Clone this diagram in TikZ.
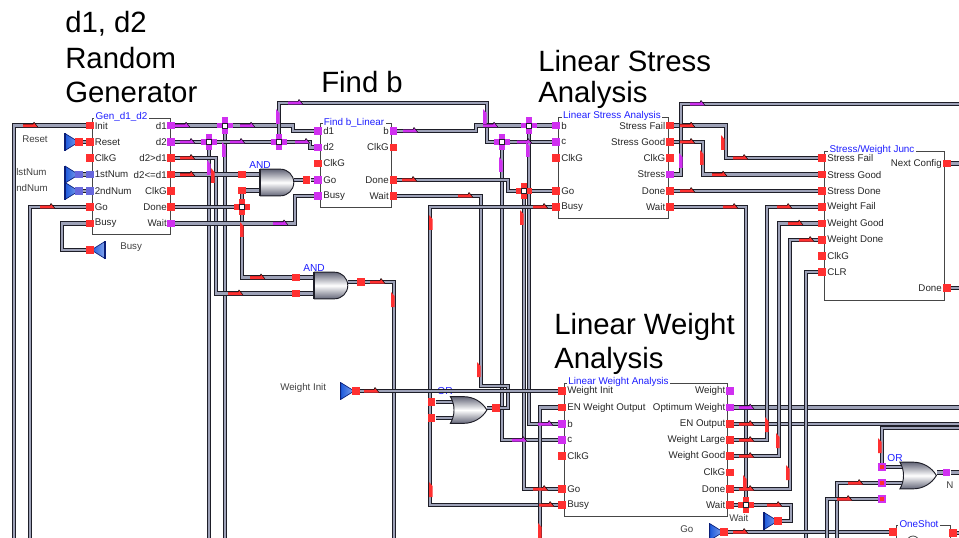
\documentclass[tikz,border=0pt]{standalone}
\usepackage{fontspec}
\setmainfont{Liberation Sans}
\usetikzlibrary{shapes.geometric,shapes.gates.logic.US,positioning,backgrounds}
\definecolor{PortRed}{RGB}{255,48,48}
\definecolor{PortMag}{RGB}{208,48,240}
\definecolor{PortPer}{RGB}{104,104,220}
\definecolor{WireFill}{RGB}{158,162,184}
\definecolor{WireEdge}{RGB}{30,30,40}
\definecolor{TitleBlue}{RGB}{30,30,255}
\definecolor{BoxGray}{RGB}{70,70,70}
\definecolor{TriBlue}{RGB}{30,90,220}
\definecolor{TriNavy}{RGB}{10,30,120}
\definecolor{GateDark}{RGB}{100,102,120}
\begin{document}
\begin{tikzpicture}[x=0.75pt,y=-0.75pt,
  wire/.style={draw=WireEdge,line width=.65pt,double=WireFill,double distance=2.1pt},
  port/.style={rectangle,draw=none,fill=#1,minimum size=5.4pt,inner sep=0pt},
  blk/.style={draw=BoxGray,line width=.6pt},
  blktitle/.style={fill=white,text=TitleBlue,font=\fontsize{7.4}{8}\selectfont,inner xsep=1pt,inner ysep=.5pt},
  lblL/.style={anchor=west,inner sep=0pt,text=black!85,font=\fontsize{7.3}{8}\selectfont},
  lblR/.style={anchor=east,inner sep=0pt,text=black!85,font=\fontsize{7.3}{8}\selectfont},
  big/.style={anchor=west,inner sep=0pt,font=\fontsize{22}{24}\selectfont},
  note/.style={inner sep=0pt,text=black!75,font=\fontsize{7.3}{8}\selectfont},
  gatetitle/.style={inner sep=0pt,text=TitleBlue,font=\fontsize{7.6}{8}\selectfont},
  gate/.style={draw=WireEdge,line width=.7pt,inner sep=0pt,logic gate inputs=nn,aspect=.8,
    top color=GateDark,bottom color=GateDark,middle color=white,minimum height=20pt,minimum width=0pt},
  tri/.style={isosceles triangle,isosceles triangle stretches,draw=TriNavy,line width=.5pt,
    left color=TriBlue,right color=TriBlue!55,inner sep=0pt,minimum width=12.5pt,minimum height=10pt},
  jct/.style={rectangle,draw=WireEdge,fill=white,line width=.5pt,minimum size=3.4pt,inner sep=0pt},
]
\useasboundingbox (0,0) rectangle (959,538);
% outlines
\draw[blk] (92,118) rectangle (170,234.5);
\draw[blk] (320,123.3) rectangle (391.7,207.7);
\draw[blk] (558,117) rectangle (668,218);
\draw[blk] (824,151) rectangle (944.7,300);
\draw[blk] (564,383) rectangle (727.7,516.7);
\draw[blk] (896,538) -- (896,525) -- (950.7,525) -- (950.7,538);
\draw[blk] (913,542) circle (6);
\node[blktitle] (genTitle) at (121.5,117) {Gen\_d1\_d2};
\node[blktitle] (fbTitle) at (354,122.5) {Find b\_Linear};
\node[blktitle] (stTitle) at (612,116) {Linear Stress Analysis};
\node[blktitle] (swTitle) at (872,149.5) {Stress/Weight Junc};
\node[blktitle] (lwTitle) at (618.5,382) {Linear Weight Analysis};
\node[blktitle] (osTitle) at (919,524) {OneShot};
% big captions
\node[big] (capA) at (65,24) {d1, d2};
\node[big] (capB) at (65,58) {Random};
\node[big] (capC) at (65,92) {Generator};
\node[big] (capD) at (321,82) {Find b};
\node[big] (capE) at (538,61) {Linear Stress};
\node[big] (capF) at (538,95) {Analysis};
\node[big] (capG) at (554,327) {Linear Weight};
\node[big] (capH) at (554,361) {Analysis};
% ports on the blocks
\foreach \n/\t/\y/\c in {Init/Init/125.7/PortRed,Reset/Reset/142/PortRed,ClkG/ClkG/158/PortRed,
  First/1stNum/174.6/PortPer,Second/2ndNum/191/PortPer,Go/Go/207/PortRed,Busy/Busy/223.5/PortRed}{
  \node[port=\c] (gen\n) at (90,\y) {};
  \node[lblL] (gen\n T) at (94.5,\y) {\t};
}
\foreach \n/\t/\y/\c in {DA/d1/125.7/PortMag,DB/d2/142/PortMag,Gt/d2>d1/158/PortRed,Le/d2<=d1/174.6/PortRed,
  ClkR/ClkG/191/PortRed,Done/Done/207/PortRed,Wait/Wait/223.5/PortMag}{
  \node[port=\c] (gen\n) at (171,\y) {};
  \node[lblR] (gen\n T) at (167,\y) {\t};
}
\foreach \n/\t/\y/\c in {DA/d1/131/PortMag,DB/d2/147.5/PortMag,ClkG/ClkG/163.5/PortRed,Go/Go/180/PortMag,Busy/Busy/196/PortMag}{
  \node[port=\c] (fb\n) at (318,\y) {};
  \node[lblL] (fb\n T) at (323,\y) {\t};
}
\foreach \n/\t/\y/\c in {B/b/131/PortMag,ClkR/ClkG/147.5/PortRed,Done/Done/180/PortRed,Wait/Wait/196/PortRed}{
  \node[port=\c] (fb\n) at (393.5,\y) {};
  \node[lblR] (fb\n T) at (389,\y) {\t};
}
\foreach \n/\t/\y/\c in {B/b/125.7/PortMag,C/c/142/PortMag,ClkG/ClkG/158/PortRed,Go/Go/191/PortRed,Busy/Busy/207/PortRed}{
  \node[port=\c] (st\n) at (556,\y) {};
  \node[lblL] (st\n T) at (561,\y) {\t};
}
\foreach \n/\t/\y/\c in {Fail/Stress Fail/125.7/PortRed,Good/Stress Good/142/PortRed,ClkR/ClkG/158/PortRed,
  Stress/Stress/174.6/PortMag,Done/Done/191/PortRed,Wait/Wait/207/PortRed}{
  \node[port=\c] (st\n) at (670,\y) {};
  \node[lblR] (st\n T) at (665.5,\y) {\t};
}
\foreach \n/\t/\y in {SF/Stress Fail/158,SG/Stress Good/174.6,SD/Stress Done/191,WF/Weight Fail/207,
  WG/Weight Good/223.5,WD/Weight Done/240,ClkG/ClkG/256,CLR/CLR/272}{
  \node[port=PortRed] (sw\n) at (822,\y) {};
  \node[lblL] (sw\n T) at (827,\y) {\t};
}
\foreach \n/\t/\y in {Next/Next Config/163.5,Done/Done/288}{
  \node[port=PortRed] (sw\n) at (947,\y) {};
  \node[lblR] (sw\n T) at (942,\y) {\t};
}
\foreach \n/\t/\y/\c in {Init/Weight Init/391/PortRed,EN/EN Weight Output/407.5/PortRed,B/b/424/PortMag,C/c/440/PortMag,
  ClkG/ClkG/456/PortRed,Go/Go/489/PortRed,Busy/Busy/505/PortRed}{
  \node[port=\c] (lw\n) at (562,\y) {};
  \node[lblL] (lw\n T) at (567,\y) {\t};
}
\foreach \n/\t/\y/\c in {Weight/Weight/391/PortMag,Opt/Optimum Weight/407.5/PortMag,ENO/EN Output/424/PortRed,
  Large/Weight Large/440/PortRed,Good/Weight Good/456/PortRed,ClkR/ClkG/472.5/PortRed,Done/Done/489/PortRed,Wait/Wait/505/PortRed}{
  \node[port=\c] (lw\n) at (730,\y) {};
  \node[lblR] (lw\n T) at (725.5,\y) {\t};
}
% gates
\node[and gate US,gate] (andA) at (276,182.5) {};
\node[and gate US,gate] (andB) at (330,285.5) {};
\node[or gate US,gate] (orA) at (466,410) {};
\node[or gate US,gate] (orB) at (915.5,475.5) {};
\foreach \n in {andA,andB}
  \draw[WireEdge,line width=1.2pt] ([yshift=-10pt]\n.west) -- ([yshift=10pt]\n.west);
\node[gatetitle] (andAT) at (260,165) {AND};
\node[gatetitle] (andBT) at (314,268) {AND};
\node[gatetitle] (orBT) at (895,458) {OR};
\foreach \n/\x/\y in {andAa/242/174.6,andAb/242/190.6,andAo/306.7/180,andBa/296/277.5,andBb/296/293.5,andBo/361/282,orAa/431.7/402,orAb/431.7/418,orAo/496/408}
  \node[port=PortRed] (\n) at (\x,\y) {};
\foreach \n/\y in {orBa/467,orBb/483,orBc/499}{
  \node[port=PortMag] (\n) at (882,\y) {};
  \fill[PortRed] (880,\y-2.4) rectangle (884,\y+2.4);
}
\node[port=PortMag] (orBo) at (946.7,472.5) {};
% pins with their ports
\node[tri] (triReset) at (70,142) {};
\node[tri] (triFirst) at (70,174.6) {};
\node[tri] (triSecond) at (70,191) {};
\node[tri] (triInit) at (345.5,391) {};
\node[tri] (triWait) at (769,521) {};
\node[tri] (triGo) at (714.5,532) {};
\node[tri,shape border rotate=180] (triBusy) at (100,250) {};
\foreach \n in {triReset,triFirst,triSecond,triInit,triWait,triGo,triBusy}
  \draw[TriNavy,line width=1.3pt] (\n.left corner) -- (\n.right corner);
\node[port=PortRed] (pReset) at (79,142) {};
\node[port=PortPer] (pFirst) at (79,174.6) {};
\node[port=PortPer] (pSecond) at (79,191) {};
\node[port=PortRed] (pBusy) at (90,250) {};
\node[port=PortRed] (pInit) at (356,391) {};
\node[port=PortRed] (pWait) at (778,521) {};
\node[port=PortRed] (pGo) at (724,532) {};
\node[port=PortRed] (osIn) at (893,532) {};
\node[port=PortRed] (osOut) at (953,533) {};
\node[note,anchor=west] (tReset) at (22,139) {Reset};
\node[note,anchor=west] (tFirst) at (16,172) {lstNum};
\node[note,anchor=west] (tSecond) at (16,188) {ndNum};
\node[note,anchor=west] (tBusy) at (120,247) {Busy};
\node[note,anchor=west] (tInit) at (280,388) {Weight Init};
\node[note,anchor=west] (tWait) at (729,518) {Wait};
\node[note,anchor=west] (tGo) at (680,529) {Go};
\node[note,anchor=west] (tN) at (946,485) {N};
% junctions
\foreach \n/\x/\y/\c in {jA/225/125.7/PortMag,jB/209/142/PortMag,jC/279/142/PortMag,jD/242/207/PortRed,
  jF/529/125.7/PortMag,jE/502/142/PortMag,jG/524/191/PortRed,jH/746/505/PortRed}{
  \foreach \dx/\dy in {-5.5/0,5.5/0,0/-5.5,0/5.5}
    \fill[\c] (\x+\dx-2.8,\y+\dy-2.8) rectangle (\x+\dx+2.8,\y+\dy+2.8);
  \node[jct] (\n) at (\x,\y) {};
}
% free ends at the edge of the sheet
\coordinate (eInit) at (14,538);
\coordinate (eGo) at (30,538);
\coordinate (eB) at (209,538);
\coordinate (eA) at (225,538);
\coordinate (eAnd) at (394,538);
\coordinate (eEN) at (540,538);
\coordinate (eCLR) at (806,538);
\coordinate (eOrB) at (837,538);
\coordinate (eOrC) at (827,538);
\coordinate (eTop) at (959,104);
\coordinate (eOpt) at (959,407.5);
\coordinate (eENO) at (959,424);
\coordinate (eOrA) at (959,428);
\coordinate (eNext) at (959,163.5);
\coordinate (eDone) at (959,288);
\coordinate (eN) at (959,472.5);
\coordinate (eOs) at (959,533);
\begin{scope}[on background layer]
\node[gatetitle] (orAT) at (445,391) {OR};
\draw[wire] (genInit) -| (eInit);
\draw[wire] (genGo) -| (eGo);
\draw[wire] (genBusy) -- (62,223.5) |- (pBusy);
\draw[wire] (pBusy) -- (triBusy);
\draw[wire] (pReset) -- (genReset);
\draw[wire] (pFirst) -- (genFirst);
\draw[wire] (pSecond) -- (genSecond);
\draw[wire] (jB) -- (eB);
\draw[wire] (jA) -- (eA);
\draw[wire] (genDA) -- (jA) -- (293,125.7) |- (fbDA);
\draw[wire] (genDB) -- (jB) -- (jC) -- (310,142) |- (fbDB);
\draw[wire] (genGt) -| (216,293.5) -- (andBb);
\draw[wire] (andBb) -- (andB.west |- andBb);
\draw[wire] (genLe) -- (andAa);
\draw[wire] (andAa) -- (andA.west |- andAa);
\draw[wire] (andAb) -- (andA.west |- andAb);
\draw[wire] (andAb) |- (andBa);
\draw[wire] (andBa) -- (andB.west |- andBa);
\draw[wire] (genDone) -- (jD);
\draw[wire] (genWait) -- (295,223.5) |- (fbBusy);
\draw[wire] (andA.east |- fbGo) -- (andAo) -- (fbGo);
\draw[wire] (andB.east |- andBo) -- (andBo) -| (eAnd);
\draw[wire] (jC) |- (487,103) |- (jE);
\draw[wire] (jE) -- (stC);
\draw[wire] (fbB) -- (476,131) |- (jF);
\draw[wire] (jF) -- (stB);
\draw[wire] (jE) |- (lwC);
\draw[wire] (jF) |- (lwB);
\draw[wire] (fbDone) -- (508,180) |- (jG);
\draw[wire] (jG) -- (stGo);
\draw[wire] (jG) |- (lwGo);
\draw[wire] (fbWait) -- (481,196) |- (508,386) |- (orAo);
\draw[wire] (orAo) -- (orA.east |- orAo);
\draw[wire] (stBusy) -- (430,207) |- (lwBusy);
\draw[wire] (orAa) -- (orA.west |- orAa);
\draw[wire] (orAb) -- (orA.west |- orAb);
\draw[wire] (pInit) -- (lwInit);
\draw[wire] (triInit) -- (pInit);
\draw[wire] (lwEN) -| (eEN);
\draw[wire] (stFail) -- (726,125.7) |- (swSF);
\draw[wire] (stGood) -- (703,142) |- (swSG);
\draw[wire] (stDone) -- (swSD);
\draw[wire] (stWait) -| (jH);
\draw[wire] (stStress) -- (681,174.6) |- (eTop);
\draw[wire] (lwWait) -- (jH) -- (791,505) |- (pWait);
\draw[wire] (pWait) -- (triWait);
\draw[wire] (lwOpt) -- (eOpt);
\draw[wire] (lwENO) -- (eENO);
\draw[wire] (lwLarge) -- (767,440) |- (swWF);
\draw[wire] (lwGood) -- (779,456) |- (swWG);
\draw[wire] (lwDone) -- (790,489) |- (swWD);
\draw[wire] (swCLR) -| (eCLR);
\draw[wire] (pGo) -- (osIn);
\draw[wire] (orBa) -- (orB.west |- orBa);
\draw[wire] (orBa) |- (eOrA);
\draw[wire] (orBb) -- (orB.west |- orBb);
\draw[wire] (orBb) -| (eOrB);
\draw[wire] (orBc) -| (eOrC);
\draw[wire] (orB.east |- orBo) -- (orBo) -- (eN);
\draw[wire] (swNext) -- (eNext);
\draw[wire] (swDone) -- (eDone);
\draw[wire] (osOut) -- (eOs);
\end{scope}
% small flags that sit on the wires
\foreach \c/\list in {PortRed/{23/125.7,40/207,180/158,180/174.6,228/293.5,250/277.5,370/282,364/391,402/180,458/196,533/207,680/125.7,680/142,680/191,723/207,733/158,712/174.6,777/207,788/223.5,799/240,739/424,739/440,739/456,739/489,767/505,733/532,848/483,837/499,533/489,539/505},
  PortMag/{175/125.7,240/125.7,180/142,230/142,295/142,288/103,403/131,483/125.7,517/142,690/104,538/424,512/440,739/407.5,273/223.5}}
  \foreach \x/\y in \list {
    \fill[\c] (\x,\y-1.5) -- (\x+10,\y-1.5) -- (\x+11,\y-3.5) -- (\x+15,\y+1.5) -- (\x,\y+1.5) -- cycle;
    \draw[black,line width=.35pt] (\x,\y-1.5) -- (\x+10,\y-1.5) -- (\x+11,\y-3.5) -- (\x+15,\y+1.5);
  }
\foreach \c/\list in {PortRed/{213/168,242/222,522/210,431/215,393/292,723/135,702/150,431/482,540/523,479/362,767/417,778/433,788/465,745/475,880/438},
  PortMag/{209/160,224/142,278/109,485/109,501/157,528/142,681/153}}
  \foreach \x/\y in \list {
    \fill[\c] (\x-2,\y) -- (\x+1.5,\y+4) -- (\x+1.5,\y+15) -- (\x-2,\y+15) -- cycle;
  }
\end{tikzpicture}
\end{document}
